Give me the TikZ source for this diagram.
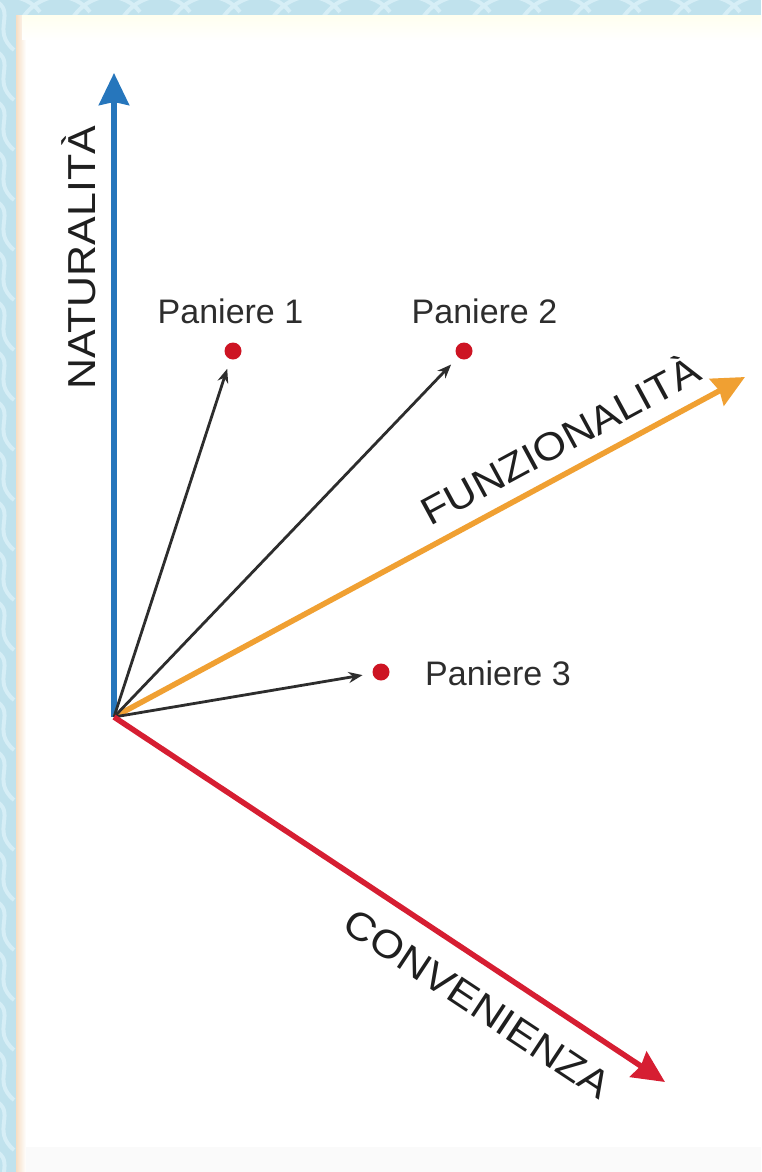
\documentclass[tikz,border=0pt]{standalone}
\usepackage{fontspec}
\setmainfont{Liberation Sans}
\newfontfamily\axisfont[FakeStretch=1.1]{Liberation Sans}
\usetikzlibrary{arrows.meta}

\definecolor{axisblue}{RGB}{38,118,188}
\definecolor{axisorange}{RGB}{240,160,50}
\definecolor{axisred}{RGB}{214,30,50}
\definecolor{dotred}{RGB}{205,20,35}
\definecolor{frameblue}{RGB}{192,226,237}
\definecolor{framelight}{RGB}{214,238,246}
\definecolor{textgray}{RGB}{45,45,45}
\definecolor{peach}{RGB}{246,222,196}

\begin{document}
\begin{tikzpicture}[x=1pt,y=-1pt,
  axis/.style={line width=5.5pt, -{Stealth[length=32pt,width=30pt,inset=3pt]}},
  vec/.style={line width=2.8pt, draw=textgray, -{Stealth[length=14pt,width=11pt]}, shorten >=10pt},
  basket/.style={circle, fill=dotred, inner sep=0pt, minimum size=17pt},
  axislabel/.style={font=\axisfont\fontsize{39}{39}\selectfont, text=black!88, inner sep=0pt, anchor=base},
  basketlabel/.style={font=\fontsize{34}{34}\selectfont, text=textgray, inner sep=0pt, anchor=base}
]
\useasboundingbox (0,0) rectangle (761,1172);

% marbled frame
\fill[frameblue] (0,0) rectangle (761,1172);
\begin{scope}
  \clip (0,0) rectangle (761,16) (0,0) rectangle (16,1172);
  \foreach \i in {0,...,16} {
    \draw[framelight, line width=4pt] (\i*50-30,22) .. controls (\i*50-10,-12) and (\i*50+25,-8) .. (\i*50+40,12);
  }
  \foreach \j in {0,...,24} {
    \draw[framelight, line width=4pt] (-6,\j*50) .. controls (18,\j*50+12) and (-10,\j*50+30) .. (14,\j*50+50);
  }
\end{scope}

% white panel
\fill[white] (16,16) rectangle (761,1172);
\shade[left color=peach, right color=white] (16,16) rectangle (26,1172);
\shade[top color=yellow!6, bottom color=white] (22,16) rectangle (761,40);
\fill[black!2] (26,1147) rectangle (761,1172);

% axes
\coordinate (O) at (114,717);
\coordinate (Ntip) at (114,73);
\coordinate (Ftip) at (745,377);
\coordinate (Ctip) at (665,1082);

\draw[axis, axisblue] (O) -- (Ntip);
\draw[axis, axisorange] (O) -- (Ftip);

% baskets
\node[basket] (p1) at (233,351) {};
\node[basket] (p2) at (464,351) {};
\node[basket] (p3) at (381,672) {};

\draw[vec] (O) -- (p1);
\draw[vec] (O) -- (p2);
\draw[vec] (O) -- (p3);

\draw[axis, axisred] (O) -- (Ctip);

% labels
\node[basketlabel] (l1) at (230.5,323) {Paniere 1};
\node[basketlabel] (l2) at (484.5,323) {Paniere 2};
\node[basketlabel, anchor=base west] (l3) at (425,685) {Paniere 3};

\node[axislabel, rotate=90] (nat) at (95,258) {NATURALITÀ};
\node[axislabel, rotate=28.4] (fun) at (567,453) {FUNZIONALITÀ};
\node[axislabel, rotate=-33.5] (con) at (470,1015) {CONVENIENZA};
\end{tikzpicture}
\end{document}
